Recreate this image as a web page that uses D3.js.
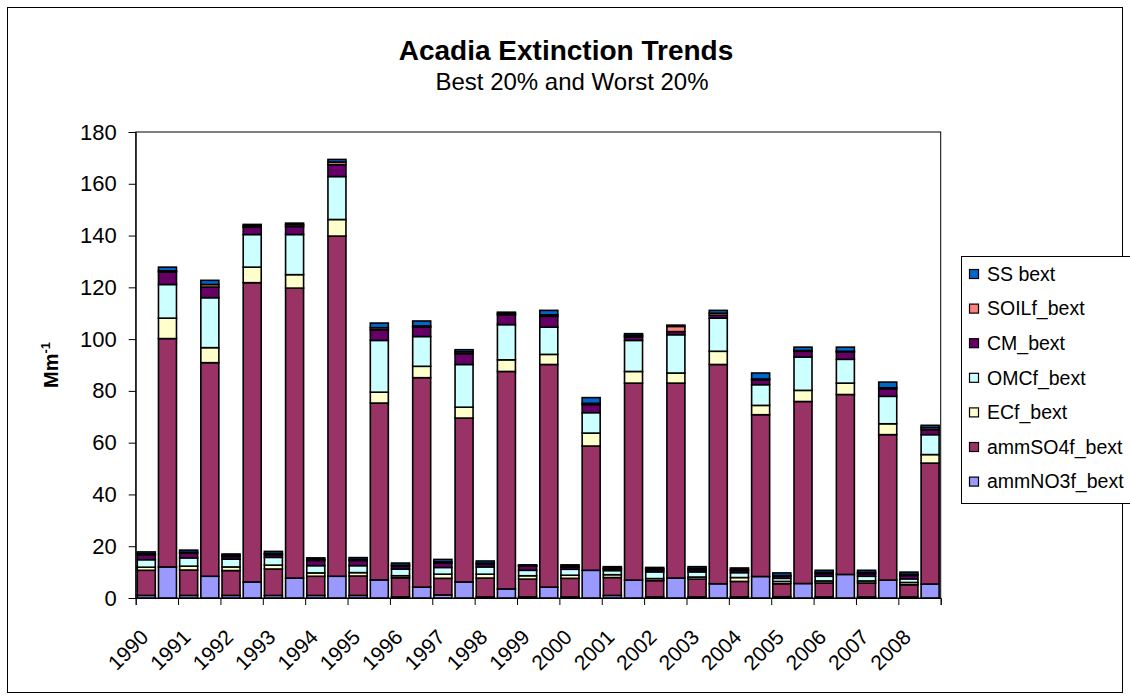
<!DOCTYPE html>
<html>
<head>
<meta charset="utf-8">
<script src="https://cdn.jsdelivr.net/npm/d3@7/dist/d3.min.js"></script>
<style>
  html, body { margin: 0; padding: 0; background: #fff; }
  svg { display: block; font-family: "Liberation Sans", Arial, sans-serif; }
</style>
</head>
<body>
<svg id="chart" width="1130" height="700"></svg>
<script>
// ---------------- DATA ----------------
const years = ["1990","1991","1992","1993","1994","1995","1996","1997","1998","1999",
               "2000","2001","2002","2003","2004","2005","2006","2007","2008"];
// each year has two bars: Best 20% then Worst 20%
const groups = ["Best 20%", "Worst 20%"];
const yTicks = [0, 20, 40, 60, 80, 100, 120, 140, 160, 180];

// values in bar order: [best1990, worst1990, best1991, worst1991, ...]
const ammNO3f_bext = [1.0,12.0, 1.0,8.4, 1.0,6.2, 1.0,7.7, 1.0,8.4, 1.0,7.0, 0.4,4.2, 1.2,6.2, 0.4,3.5, 0.4,4.2,
                      0.4,10.7, 1.0,6.9, 0.4,7.7, 0.4,5.5, 0.4,8.3, 0.5,5.6, 0.4,9.1, 0.4,6.9, 0.4,5.4];
const ammSO4f_bext = [9.7,88.2, 9.8,82.5, 9.6,115.6, 10.2,112.0, 7.4,131.4, 7.5,68.3, 7.4,80.9, 6.4,63.3, 7.3,84.0, 6.9,86.0,
                      7.2,48.0, 6.9,76.1, 6.3,75.3, 6.9,84.7, 6.0,62.5, 5.0,70.3, 5.4,69.5, 5.4,56.2, 4.7,46.7];
const ECf_bext     = [1.2,7.9, 1.5,5.8, 1.4,6.0, 1.5,5.2, 1.3,6.4, 1.3,4.2, 0.8,4.4, 1.6,4.2, 1.5,4.5, 1.3,3.9,
                      1.2,5.0, 1.1,4.5, 0.8,3.9, 0.8,5.1, 1.5,3.6, 0.9,4.3, 0.8,4.4, 0.8,4.2, 0.9,3.3];
const OMCf_bext    = [2.9,13.0, 3.2,19.3, 3.0,12.6, 3.0,15.5, 2.8,16.6, 2.7,20.0, 2.6,11.5, 2.6,16.5, 2.8,13.6, 2.1,10.5,
                      2.3,7.9, 1.6,12.0, 2.6,14.8, 2.0,12.8, 1.9,8.0, 1.2,12.9, 1.8,9.2, 1.8,10.6, 1.4,7.7];
const CM_bext      = [1.9,4.8, 1.8,4.1, 1.0,2.8, 1.0,3.1, 2.0,4.6, 2.0,4.1, 1.0,3.6, 1.7,4.2, 1.0,3.8, 1.6,4.2,
                      0.8,3.1, 0.7,1.3, 0.8,1.2, 0.8,1.1, 0.8,1.9, 0.8,2.2, 1.0,2.8, 1.0,2.9, 1.3,1.9];
const SOILf_bext   = [0.4,0.5, 0.4,1.0, 0.4,0.6, 0.5,0.7, 0.4,1.0, 0.4,0.8, 0.5,0.5, 0.5,0.7, 0.5,0.5, 0.2,0.6,
                      0.4,0.5, 0.3,0.6, 0.4,2.0, 0.5,0.8, 0.4,0.3, 0.3,0.3, 0.5,0.3, 0.5,0.4, 0.5,0.8];
const SS_bext      = [0.7,1.4, 0.8,1.6, 0.6,0.5, 0.8,0.6, 0.6,1.0, 0.7,1.8, 0.8,1.9, 0.9,0.8, 0.8,0.5, 0.3,1.7,
                      0.5,2.2, 0.5,0.7, 0.5,0.5, 0.7,1.1, 0.6,2.3, 1.0,1.3, 0.8,1.6, 0.8,2.2, 0.8,0.9];

const seriesNames = ["ammNO3f_bext","ammSO4f_bext","ECf_bext","OMCf_bext","CM_bext","SOILf_bext","SS bext"];
const seriesValues = [ammNO3f_bext, ammSO4f_bext, ECf_bext, OMCf_bext, CM_bext, SOILf_bext, SS_bext];
const seriesColors = ["#9999FF","#993366","#FFFFCC","#CCFFFF","#660066","#FF8080","#0066CC"];

// ---------------- BUILD TABLE ----------------
const cats = [];
years.forEach(y => groups.forEach(g => cats.push(y + " " + g)));
const table = cats.map((c, i) => {
  const row = { cat: c, year: years[Math.floor(i / 2)], first: i % 2 === 0 };
  seriesNames.forEach((s, k) => row[s] = seriesValues[k][i]);
  return row;
});
const stacked = d3.stack().keys(seriesNames)(table);

// ---------------- LAYOUT ----------------
const svg = d3.select("#chart");
const plot = { left: 135.7, right: 940.7, top: 132, bottom: 598 };

// outer chart border
svg.append("rect").attr("x", 7.5).attr("y", 7.5).attr("width", 1115).attr("height", 685)
  .attr("fill", "#fff").attr("stroke", "#000").attr("stroke-width", 1);

const x = d3.scaleBand().domain(cats).range([plot.left, plot.right])
  .paddingInner(0.15).paddingOuter(0.075);
const y = d3.scaleLinear().domain([0, 180]).range([plot.bottom, plot.top]);

// plot area border
svg.append("rect").attr("x", plot.left).attr("y", plot.top)
  .attr("width", plot.right - plot.left).attr("height", plot.bottom - plot.top)
  .attr("fill", "#fff").attr("stroke", "#000").attr("stroke-width", 1);

// bars
const layer = svg.append("g").selectAll("g").data(stacked).join("g")
  .attr("fill", (d, i) => seriesColors[i]);
layer.selectAll("rect").data(d => d).join("rect")
  .attr("x", d => x(d.data.cat))
  .attr("width", x.bandwidth())
  .attr("y", d => y(d[1]))
  .attr("height", d => Math.max(0, y(d[0]) - y(d[1])))
  .attr("stroke", "#000").attr("stroke-width", 1.6);

// y axis
const yAxis = d3.axisLeft(y).tickValues(yTicks).tickSize(7).tickPadding(12).tickFormat(d3.format("d"));
const gy = svg.append("g").attr("transform", `translate(${plot.left},0)`).call(yAxis);
gy.select(".domain").attr("stroke", "#000");
gy.selectAll(".tick line").attr("stroke", "#000");
gy.selectAll(".tick text").attr("font-size", 22).attr("fill", "#000")
  .attr("font-family", "Liberation Sans, Arial, sans-serif");

// x axis: tick marks between year pairs
const xt = d3.scaleLinear().domain([0, years.length]).range([plot.left, plot.right]);
const gx = svg.append("g").attr("transform", `translate(0,${plot.bottom})`)
  .call(d3.axisBottom(xt).tickValues(d3.range(0, years.length + 1)).tickSize(7).tickFormat(""));
gx.select(".domain").attr("stroke", "#000");
gx.selectAll(".tick line").attr("stroke", "#000");

// x labels: year under first bar of each pair, rotated
const labelCats = table.filter(d => d.first);
svg.append("g").selectAll("text").data(labelCats).join("text")
  .attr("transform", d => `translate(${x(d.cat) + x.bandwidth() / 2 - 7},${plot.bottom + 30}) rotate(-45)`)
  .attr("text-anchor", "end")
  .attr("dy", "0.7em")
  .attr("font-size", 21)
  .text(d => d.year);

// titles
svg.append("text").attr("x", 566).attr("y", 60).attr("text-anchor", "middle")
  .attr("font-size", 28).attr("font-weight", "bold").text("Acadia Extinction Trends");
svg.append("text").attr("x", 572).attr("y", 90).attr("text-anchor", "middle")
  .attr("font-size", 24).text("Best 20% and Worst 20%");

// y title
const yt = svg.append("text").attr("transform", `translate(58,${(plot.top + plot.bottom) / 2}) rotate(-90)`)
  .attr("text-anchor", "middle").attr("font-size", 20).attr("font-weight", "bold");
yt.append("tspan").text("Mm");
yt.append("tspan").attr("dy", -8).attr("font-size", 13).text("-1");

// legend
const leg = svg.append("g");
leg.append("rect").attr("x", 961.5).attr("y", 256.5).attr("width", 200).attr("height", 247)
  .attr("fill", "#fff").attr("stroke", "#000").attr("stroke-width", 1);
const legOrder = d3.range(seriesNames.length).reverse();
legOrder.forEach((k, j) => {
  const cy = 274 + j * 34.6;
  leg.append("rect").attr("x", 969.5).attr("y", cy - 4.5).attr("width", 9).attr("height", 9)
    .attr("fill", seriesColors[k]).attr("stroke", "#000").attr("stroke-width", 1.2);
  leg.append("text").attr("x", 987).attr("y", cy).attr("dy", "0.35em")
    .attr("font-size", 19.5).text(seriesNames[k]);
});
</script>
</body>
</html>
